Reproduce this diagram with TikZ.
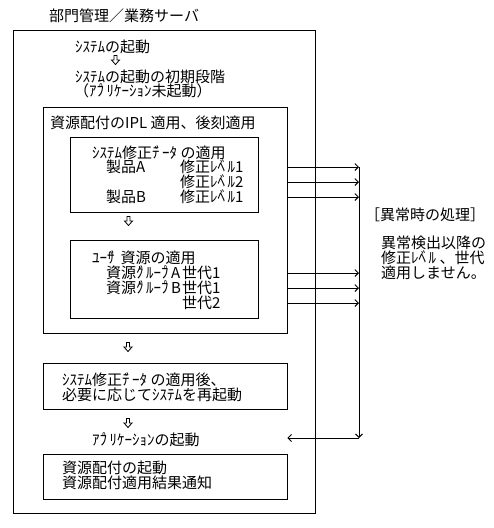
\documentclass[tikz,border=0pt]{standalone}
\usepackage{fontspec}
\usetikzlibrary{arrows.meta}
\newfontfamily\jpfont{Noto Sans CJK JP}
\newcommand\dk{\kern-5pt ﾞ}
\newcommand\hd{\kern-5pt ﾟ}

\begin{document}
\begin{tikzpicture}[x=1pt,y=-1pt,
    txt/.style={anchor=west,inner sep=0pt,font=\jpfont\fontsize{15}{15}\selectfont},
    frame/.style={draw,line width=0.9pt,inner sep=0pt},
    err/.style={line width=0.9pt,-{Straight Barb[length=3.5pt,width=7pt]}}]
  \useasboundingbox (0,0) rectangle (494,528);

  \node[txt] (title) at (49,16) {部門管理／業務サーバ};
  \node[frame,minimum width=302,minimum height=483] (server) at (164,271.5) {};

  \node[txt] (boot) at (75,47) {ｼｽﾃﾑの起動};
  \node[txt] (early) at (75,77) {ｼｽﾃﾑの起動の初期段階};
  \node[txt] (noapp) at (74,91) {（ｱﾌ\hd{}ﾘｹｰｼｮﾝ未起動）};

  % IPL block
  \node[frame,minimum width=244,minimum height=226] (ipl) at (165,220) {};
  \node[txt] (iplhead) at (50,123) {資源配付のIPL 適用、後刻適用};

  \node[frame,minimum width=188,minimum height=75] (patch) at (164,174.5) {};
  \node[txt] (patchhead) at (92,153) {ｼｽﾃﾑ修正ﾃ\dk{}ｰﾀ の適用};
  \node[txt] (prodA) at (106,167) {製品A};
  \node[txt] (lvA) at (180,167) {修正ﾚﾍ\dk{}ﾙ1};
  \node[txt] (lvB) at (180,182) {修正ﾚﾍ\dk{}ﾙ2};
  \node[txt] (prodB) at (106,197) {製品B};
  \node[txt] (lvC) at (180,197) {修正ﾚﾍ\dk{}ﾙ1};

  \node[frame,minimum width=188,minimum height=78] (user) at (164,279) {};
  \node[txt] (userhead) at (92,258) {ﾕｰｻ\dk{} 資源の適用};
  \node[txt] (grpA) at (106,273) {資源ｸ\dk{}ﾙｰﾌ\hd{}A};
  \node[txt] (genA) at (182,273) {世代1};
  \node[txt] (grpB) at (106,288) {資源ｸ\dk{}ﾙｰﾌ\hd{}B};
  \node[txt] (genB) at (182,288) {世代1};
  \node[txt] (genC) at (182,303) {世代2};

  \node[frame,minimum width=244,minimum height=46] (restart) at (165,386) {};
  \node[txt] (rs1) at (62,380) {ｼｽﾃﾑ修正ﾃ\dk{}ｰﾀ の適用後、};
  \node[txt] (rs2) at (62,395) {必要に応じてｼｽﾃﾑを再起動};

  \node[txt] (appstart) at (92,440) {ｱﾌ\hd{}ﾘｹｰｼｮﾝの起動};

  \node[frame,minimum width=244,minimum height=45] (notify) at (165,476.5) {};
  \node[txt] (nt1) at (62,468) {資源配付の起動};
  \node[txt] (nt2) at (62,483) {資源配付適用結果通知};

  % hollow down arrows
  \foreach \p in {(115.5,60),(128.5,221),(128,347),(128,423)}
    \draw[line width=0.8pt] \p ++(-1.5,-4.5) -- ++(3,0) -- ++(0,4.5) -- ++(2.5,0)
      -- ++(-4,4.5) -- ++(-4,-4.5) -- ++(2.5,0) -- cycle;

  % error handling
  \node[txt] (errhead) at (365,215) {［異常時の処理］};
  \node[txt] (err1) at (381,243) {異常検出以降の};
  \node[txt] (err2) at (381,258) {修正ﾚﾍ\dk{}ﾙ 、世代};
  \node[txt] (err3) at (381,273) {適用しません。};

  \coordinate (bus) at (359,0);
  \coordinate (busEnd) at (359,438);
  \foreach \r in {lvA,lvB,lvC,genA,genB,genC}
    \draw[err] (ipl.east |- \r.west) -- (bus |- \r.west);
  \draw[err] (bus |- lvA.west) -- (busEnd);
  \draw[err] (busEnd) -- (notify.east |- busEnd);
\end{tikzpicture}
\end{document}
